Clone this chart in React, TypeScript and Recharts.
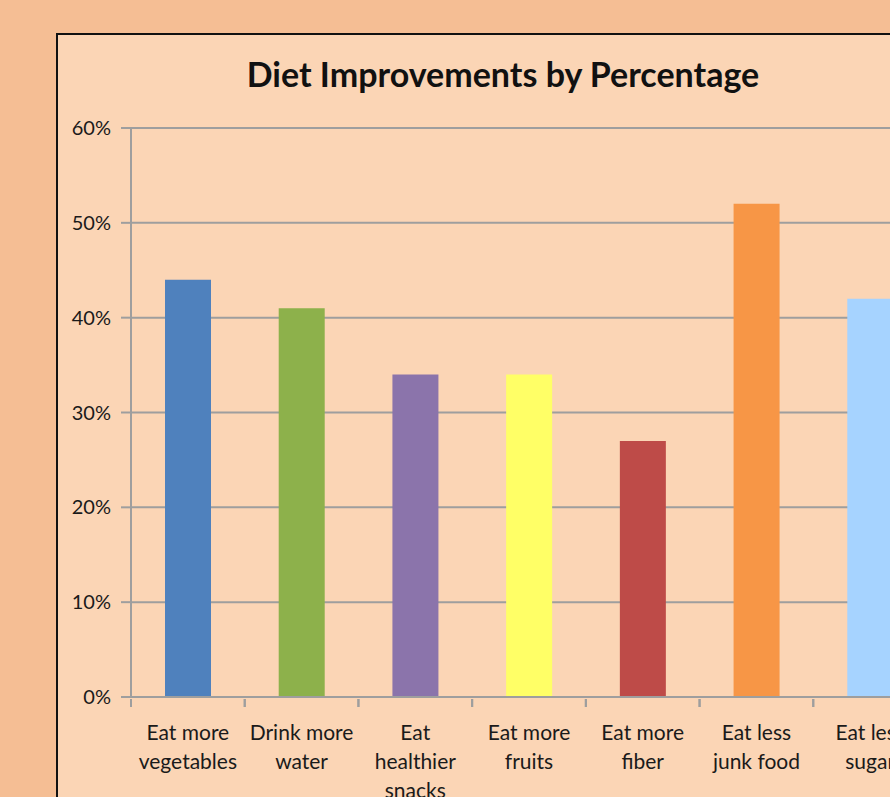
import { BarChart, Bar, XAxis, YAxis, CartesianGrid, Cell } from "recharts";

const categories = [
  "Eat more\nvegetables",
  "Drink more\nwater",
  "Eat\nhealthier\nsnacks",
  "Eat more\nfruits",
  "Eat more\nfiber",
  "Eat less\njunk food",
  "Eat less\nsugar",
];
const percents = [44, 41, 34, 34, 27, 52, 42];
const barColors = ["#4F81BD", "#8DB14B", "#8B74AB", "#FFFF66", "#BE4B48", "#F79646", "#A6D3FF"];
const yTicks = [0, 10, 20, 30, 40, 50, 60];

const data = categories.map((name, i) => ({ name, value: percents[i] }));

const FONT = "Lato, 'Open Sans', sans-serif";
const AXIS_GREY = "#9E9E9E";

// Excel puts the category tick marks between the bars, so draw them here
function CategoryTick(props: any) {
  const { x, y, payload } = props;
  const half = payload.offset || 56.85;
  const lines = String(payload.value).split("\n");
  return (
    <g transform={`translate(${x},${y})`}>
      <line x1={-half} x2={-half} y1={0} y2={8} stroke={AXIS_GREY} strokeWidth={2} />
      <line x1={half} x2={half} y1={0} y2={8} stroke={AXIS_GREY} strokeWidth={2} />
      {lines.map((line: string, i: number) => (
        <text
          key={i}
          x={0}
          y={41 + i * 29}
          textAnchor="middle"
          fontSize={21}
          fontFamily={FONT}
          fill="#1a1a1a"
        >
          {line}
        </text>
      ))}
    </g>
  );
}

export default function App() {
  return (
    <div
      style={{
        position: "fixed",
        left: 0,
        top: 0,
        width: 890,
        height: 797,
        overflow: "hidden",
        background: "#F5BE94",
      }}
    >
      <div
        style={{
          position: "absolute",
          left: 56,
          top: 33,
          width: 960,
          height: 820,
          background: "#FBD5B5",
          borderLeft: "2px solid #111",
          borderTop: "2px solid #111",
          boxSizing: "border-box",
        }}
      >
        <div
          style={{
            position: "absolute",
            left: 0,
            top: 18,
            width: 890,
            textAlign: "center",
            fontFamily: FONT,
            fontWeight: 700,
            fontSize: 34,
            color: "#111",
          }}
        >
          Diet Improvements by Percentage
        </div>
        <BarChart
          width={900}
          height={820}
          data={data}
          margin={{ top: 95, right: 29, left: 0, bottom: 120 }}
          style={{ position: "absolute", left: -2, top: -2 }}
        >
          <CartesianGrid vertical={false} stroke={AXIS_GREY} strokeWidth={2} />
          <XAxis
            dataKey="name"
            interval={0}
            tick={<CategoryTick />}
            axisLine={{ stroke: AXIS_GREY, strokeWidth: 2 }}
            tickLine={false}
            tickSize={0}
            height={36}
          />
          <YAxis
            type="number"
            domain={[0, 60]}
            ticks={yTicks}
            width={75}
            tickFormatter={(v: number) => `${v}%`}
            axisLine={{ stroke: AXIS_GREY, strokeWidth: 2 }}
            tickLine={{ stroke: AXIS_GREY, strokeWidth: 2 }}
            tickSize={10}
            tickMargin={10}
            tick={{ fontSize: 20, fontFamily: FONT, fill: "#1a1a1a" }}
          />
          <Bar dataKey="value" barSize={46} isAnimationActive={false}>
            {data.map((_, i) => (
              <Cell key={i} fill={barColors[i]} />
            ))}
          </Bar>
        </BarChart>
      </div>
    </div>
  );
}
